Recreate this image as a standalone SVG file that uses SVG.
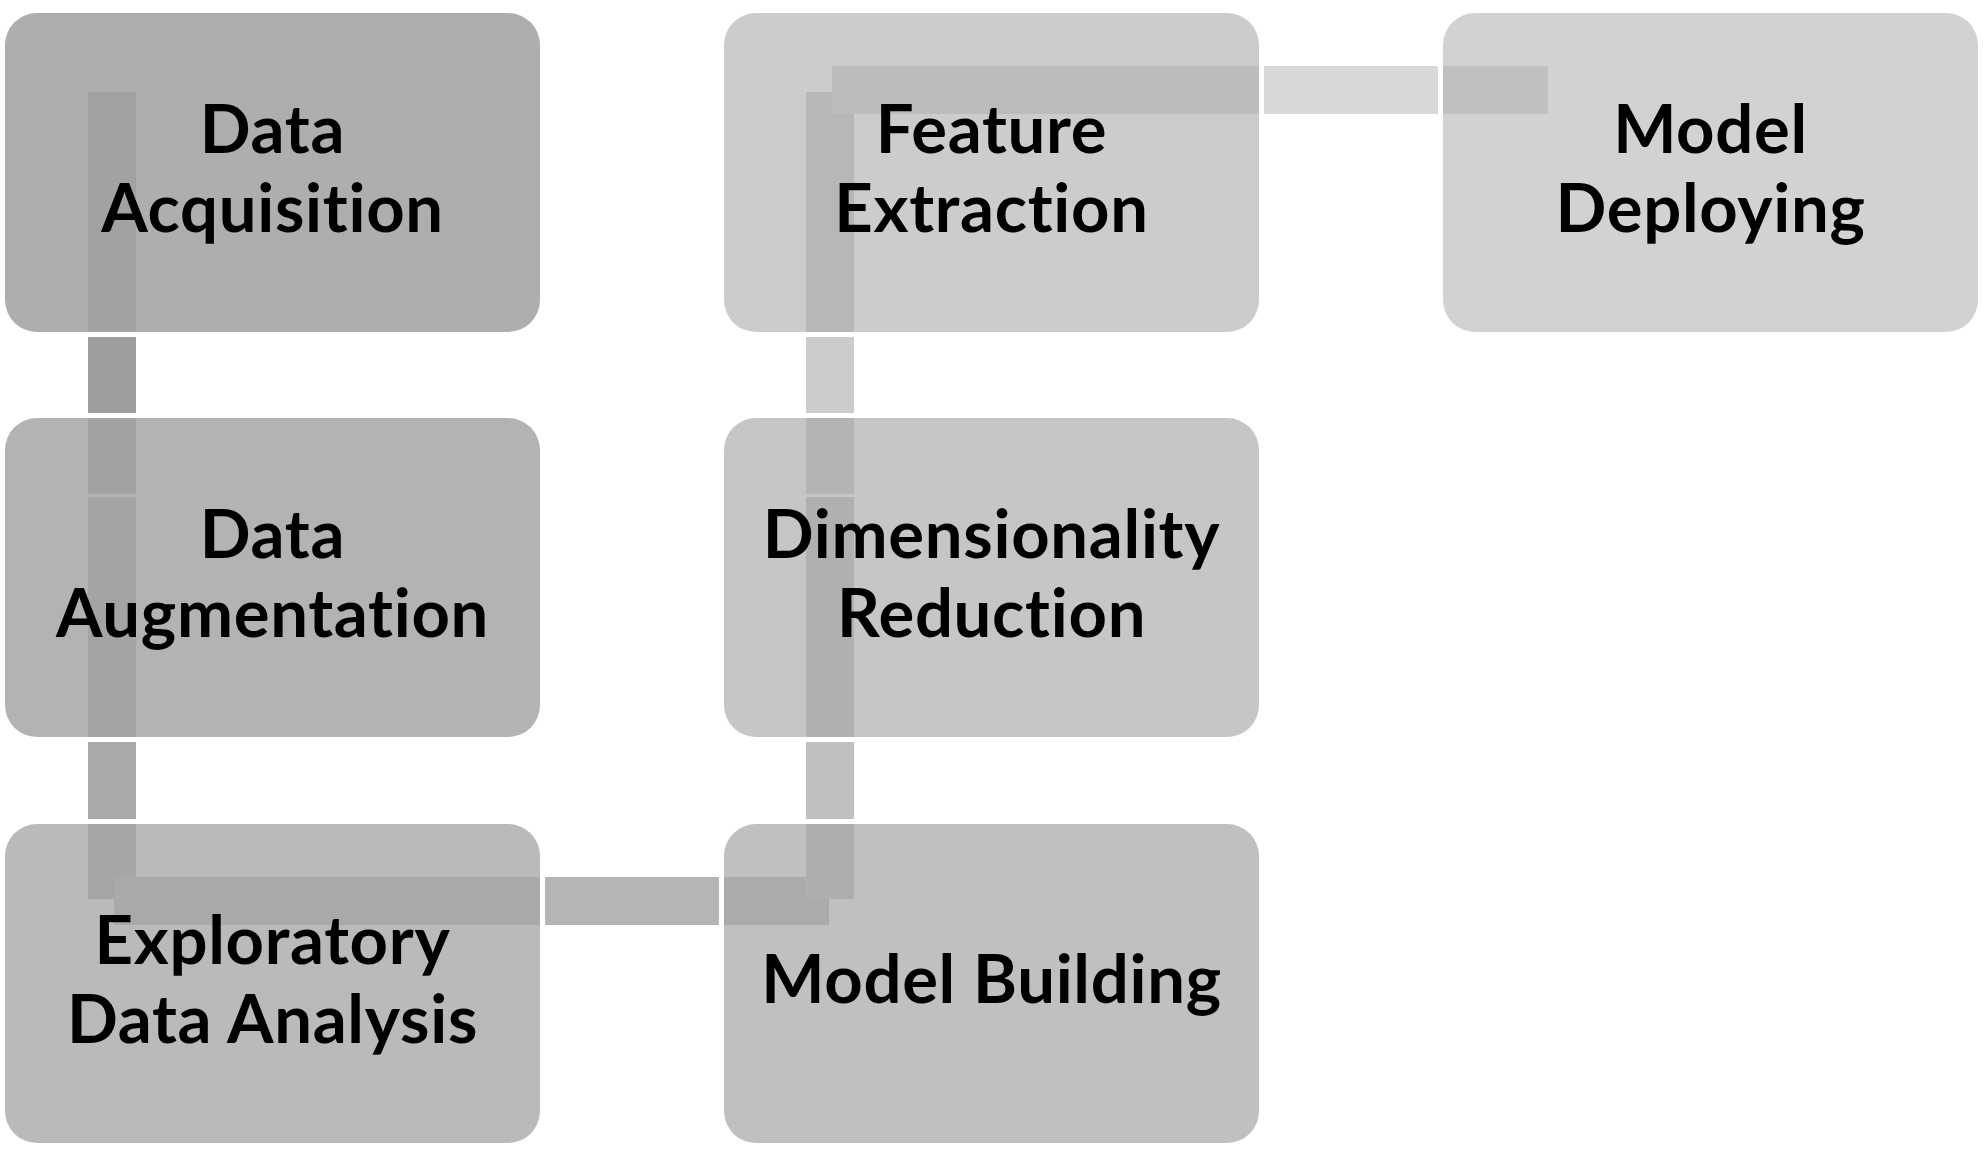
<svg xmlns="http://www.w3.org/2000/svg" xmlns:xlink="http://www.w3.org/1999/xlink" width="1983" height="1155" viewBox="0 0 1983 1155">
<style>
.lbl{font-family:Lato,"Open Sans",sans-serif;font-weight:700;font-size:67px;letter-spacing:0.7px;font-variant-ligatures:none;font-feature-settings:"liga" 0,"clig" 0;fill:#000;text-anchor:middle}
.ring{fill:#fff;fill-rule:evenodd}
</style>
<defs>
<path id="ring" d="M32,-5 H503 A37,37 0 0 1 540,32 V287 A37,37 0 0 1 503,324 H32 A37,37 0 0 1 -5,287 V32 A37,37 0 0 1 32,-5 Z M32,0 H503 A32,32 0 0 1 535,32 V287 A32,32 0 0 1 503,319 H32 A32,32 0 0 1 0,287 V32 A32,32 0 0 1 32,0 Z"/>
<rect id="box" x="0" y="0" width="535" height="319" rx="32" ry="32"/>
</defs>
<rect width="1983" height="1155" fill="#fff"/>
<g id="connectors">
<rect x="88" y="92" width="48" height="402" fill="#9E9E9E"/>
<rect x="88" y="497" width="48" height="402" fill="#A9A9A9"/>
<rect x="114" y="877" width="715" height="48" fill="#B5B5B5"/>
<rect x="806" y="497" width="48" height="402" fill="#C0C0C0"/>
<rect x="806" y="92" width="48" height="402" fill="#CCCCCC"/>
<rect x="832" y="66" width="716" height="48" fill="#D8D8D8"/>
</g>
<g id="node-data-acquisition">
<use xlink:href="#ring" x="5" y="13" class="ring"/>
<use xlink:href="#box" x="5" y="13" fill="#A3A3A3" fill-opacity="0.88"/>
<text class="lbl" x="272.5" y="153">Data</text>
<text class="lbl" x="272.5" y="232">Acquisition</text>
</g>
<g id="node-data-augmentation">
<use xlink:href="#ring" x="5" y="418" class="ring"/>
<use xlink:href="#box" x="5" y="418" fill="#A3A3A3" fill-opacity="0.823"/>
<text class="lbl" x="272.5" y="558">Data</text>
<text class="lbl" x="272.5" y="637">Augmentation</text>
</g>
<g id="node-eda">
<use xlink:href="#ring" x="5" y="824" class="ring"/>
<use xlink:href="#box" x="5" y="824" fill="#A5A5A5" fill-opacity="0.766"/>
<text class="lbl" x="272.5" y="964">Exploratory</text>
<text class="lbl" x="272.5" y="1043">Data Analysis</text>
</g>
<g id="node-model-building">
<use xlink:href="#ring" x="724" y="824" class="ring"/>
<use xlink:href="#box" x="724" y="824" fill="#A6A6A6" fill-opacity="0.71"/>
<text class="lbl" x="991.5" y="1003">Model Building</text>
</g>
<g id="node-dimensionality-reduction">
<use xlink:href="#ring" x="724" y="418" class="ring"/>
<use xlink:href="#box" x="724" y="418" fill="#A7A7A7" fill-opacity="0.65"/>
<text class="lbl" x="991.5" y="558">Dimensionality</text>
<text class="lbl" x="991.5" y="637">Reduction</text>
</g>
<g id="node-feature-extraction">
<use xlink:href="#ring" x="724" y="13" class="ring"/>
<use xlink:href="#box" x="724" y="13" fill="#A9A9A9" fill-opacity="0.595"/>
<text class="lbl" x="991.5" y="153">Feature</text>
<text class="lbl" x="991.5" y="232">Extraction</text>
</g>
<g id="node-model-deploying">
<use xlink:href="#ring" x="1443" y="13" class="ring"/>
<use xlink:href="#box" x="1443" y="13" fill="#ACACAC" fill-opacity="0.54"/>
<text class="lbl" x="1710.5" y="153">Model</text>
<text class="lbl" x="1710.5" y="232">Deploying</text>
</g>
</svg>
